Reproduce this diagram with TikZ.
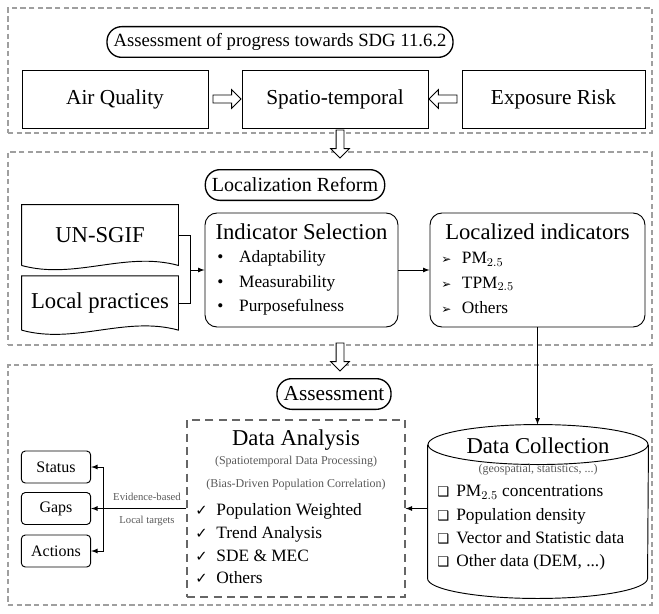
\documentclass[tikz,border=0pt]{standalone}
\usepackage{fontspec}
\setmainfont{Liberation Serif}
\newfontfamily\symfont{DejaVu Sans}
\usetikzlibrary{shapes.arrows,calc}

\newcommand{\fs}[1]{\fontsize{#1}{#1}\selectfont}

\begin{document}
\begin{tikzpicture}[x=0.75pt,y=-0.75pt,line width=0.7pt,
	section/.style={draw=gray!75,dashed,dash pattern=on 4pt off 2.5pt,line width=1.3pt,inner sep=0pt},
	pill/.style={draw,line width=1pt,rounded corners=11pt,minimum height=23pt,inner xsep=5pt,font=\fs{15}},
	plainbox/.style={draw,minimum height=43.5pt,font=\fs{16}},
	docbox/.style={minimum width=117pt,inner sep=0pt,font=\fs{17}},
	rbox/.style={draw,rounded corners=9pt,minimum width=#1,minimum height=85.5pt},
	smallbox/.style={draw,rounded corners=3pt,minimum width=52pt,minimum height=24pt,font=\fs{12}},
	boxtitle/.style={font=\fs{17}},
	itemlist/.style={align=left,anchor=west,inner sep=0pt,font=\fontsize{13}{18.5}\selectfont},
	note/.style={font=\fs{9},text=gray!70!black},
	hollow/.style={single arrow,draw,fill=white,line width=0.7pt,minimum height=21pt,minimum width=14pt,single arrow head extend=2.5pt,inner sep=1.5pt}]

	\useasboundingbox (0,0) rectangle (659,613);

	\node[section,minimum width=483pt,minimum height=93.75pt] (top) at (330,70.5) {};
	\node[section,minimum width=483pt,minimum height=144.75pt] (mid) at (330,248.5) {};
	\node[section,minimum width=483pt,minimum height=180pt] (bot) at (330,485) {};

	\node[hollow,rotate=-90] (d1) at (340,142) {};
	\node[hollow,rotate=-90] (d2) at (340,355) {};

	% progress
	\node[pill,font=\fs{14}] (sdg) at (280,42) {Assessment of progress towards SDG 11.6.2};
	\node[plainbox,minimum width=139.5pt] (aq) at (115,99) {Air Quality};
	\node[plainbox,minimum width=139.5pt] (st) at (335,99) {Spatio-temporal};
	\node[plainbox,minimum width=137.25pt] (er) at (553.5,99) {Exposure Risk};
	\node[hollow] (a1) at ($(aq.east)!0.5!(st.west)$) {};
	\node[hollow,rotate=180] (a2) at ($(st.east)!0.5!(er.west)$) {};

	% localization
	\node[pill] (loc) at (295,185) {Localization Reform};
	\node[docbox,minimum height=45pt] (un) at (100,235) {UN-SGIF};
	\node[docbox,minimum height=40pt] (lp) at (100,303) {Local practices};
	\foreach \d in {un,lp}
		\draw (\d.south west) -- (\d.north west) -- (\d.north east) -- (\d.south east)
			.. controls +(-40pt,11pt) and +(40pt,-11pt) .. (\d.south west);
	\node[rbox=144.75pt] (sel) at (301.5,270) {};
	\node[boxtitle] (selt) at (301.5,232) {Indicator Selection};
	\node[itemlist] (sell) at (217,283) {\textbullet\hspace{0.9em}Adaptability\\ \textbullet\hspace{0.9em}Measurability\\ \textbullet\hspace{0.9em}Purposefulness};
	\node[rbox=161.25pt] (ind) at (537.5,270) {};
	\node[boxtitle] (indt) at (537.5,232) {Localized indicators};
	\node[itemlist] (indl) at (441,283) {{\symfont\fs{9}➢}\hspace{0.6em}PM$_{2.5}$\\ {\symfont\fs{9}➢}\hspace{0.6em}TPM$_{2.5}$\\ {\symfont\fs{9}➢}\hspace{0.6em}Others};
	\coordinate (merge) at (190,270);
	\draw (un.east) -| (merge);
	\draw (lp.east) -| (merge);
	\draw[-latex] (merge) -- (sel.west);
	\draw[-latex] (sel.east) -- (ind.west);

	% assessment
	\node[pill,font=\fs{16}] (ass) at (334,394) {Assessment};
	\node[draw=gray!80!black,dashed,dash pattern=on 6pt off 4pt,line width=0.8pt,minimum width=163.5pt,minimum height=132.75pt] (da) at (296,508.5) {};
	\node[boxtitle] (dat) at (296,440) {Data Analysis};
	\node[note] (da1) at (296,462) {(Spatiotemporal Data Processing)};
	\node[note] (da2) at (296,485) {(Bias-Driven Population Correlation)};
	\node[itemlist,font=\fontsize{13}{17}\selectfont] (dal) at (195,544) {{\symfont\fs{11}✓}\hspace{0.5em}Population Weighted\\ {\symfont\fs{11}✓}\hspace{0.5em}Trend Analysis\\ {\symfont\fs{11}✓}\hspace{0.5em}SDE \& MEC\\ {\symfont\fs{11}✓}\hspace{0.5em}Others};

	\node[minimum width=165pt,minimum height=129.75pt,inner sep=0pt] (dc) at (538,511.5) {};
	\draw ($(dc.north west)+(0,-15pt)$) -- ($(dc.south west)+(0,15pt)$)
		arc[start angle=180,end angle=360,x radius=82.5pt,y radius=15pt]
		-- ($(dc.north east)+(0,-15pt)$);
	\draw ($(dc.north)+(0,-15pt)$) ellipse[x radius=82.5pt,y radius=15pt];
	\node[boxtitle] (dct) at (538,446) {Data Collection};
	\node[note] (dc1) at (538,470) {(geospatial, statistics, ...)};
	\node[itemlist,font=\fontsize{13}{17.5}\selectfont] (dcl) at (437,528) {{\symfont\fs{10}❑}\hspace{0.4em}PM$_{2.5}$ concentrations\\ {\symfont\fs{10}❑}\hspace{0.4em}Population density\\ {\symfont\fs{10}❑}\hspace{0.4em}Vector and Statistic data\\ {\symfont\fs{10}❑}\hspace{0.4em}Other data (DEM, ...)};

	\node[smallbox] (status) at (56,467) {Status};
	\node[smallbox] (gaps) at (56,508.5) {Gaps};
	\node[smallbox] (act) at (56,551) {Actions};
	\coordinate (split) at (103,508.5);
	\draw (da.west) -- (split);
	\draw[-latex] (split) |- (status.east);
	\draw[-latex] (split) -- (gaps.east);
	\draw[-latex] (split) |- (act.east);
	\node[note,font=\fs{8}] (ev) at (147,497) {Evidence-based};
	\node[note,font=\fs{8}] (lt) at (147,521) {Local targets};

	\draw[-latex] (ind.south) -- (ind.south |- dc.north);
	\draw[-latex] (dc.west |- da.east) -- (da.east);
\end{tikzpicture}
\end{document}
